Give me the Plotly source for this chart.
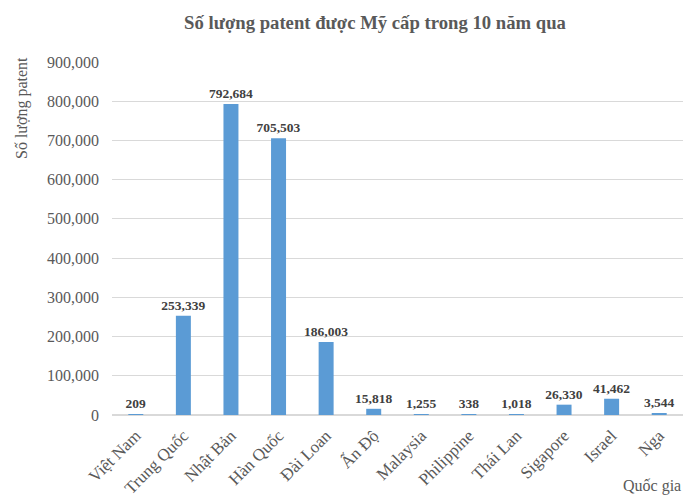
import plotly.graph_objects as go

# ──────── データ ────────
quoc_gia = ["Việt Nam", "Trung Quốc", "Nhật Bản", "Hàn Quốc", "Đài Loan", "Ấn Độ",
            "Malaysia", "Philippine", "Thái Lan", "Sigapore", "Israel", "Nga"]
so_luong = [209, 253339, 792684, 705503, 186003, 15818, 1255, 338, 1018, 26330, 41462, 3544]
y_ticks = [0, 100000, 200000, 300000, 400000, 500000, 600000, 700000, 800000, 900000]

font_serif = "Liberation Serif, Times New Roman, serif"

# ページ本体の余白 (8px) を差し引いたサイズ
W, H = 685, 493
L, R, T, B = 104, 10, 54, 86
pw, ph = W - L - R, H - T - B

fig = go.Figure(go.Bar(
    x=quoc_gia,
    y=so_luong,
    marker=dict(color="#5B9BD5", line=dict(width=0)),
    text=[f"{v:,}" for v in so_luong],
    textposition="outside",
    constraintext="none",
    textfont=dict(family=font_serif, size=13.5, color="#404040", weight="bold"),
    cliponaxis=False,
))

fig.update_layout(
    width=W, height=H,
    margin=dict(l=L, r=R, t=T, b=B),
    paper_bgcolor="white", plot_bgcolor="white",
    bargap=0.685,
    showlegend=False,
    font=dict(family=font_serif, color="#595959"),
    title=dict(
        text="<b>Số lượng patent được Mỹ cấp trong 10 năm qua</b>",
        x=(375 - 8) / W, xanchor="center", y=1 - 14 / H, yanchor="middle",
        font=dict(family=font_serif, size=18.7, color="#595959"),
    ),
    xaxis=dict(
        tickangle=-45,
        tickfont=dict(family=font_serif, size=17, color="#595959"),
        showline=True, linecolor="#d9d9d9", linewidth=1,
        ticks="", showgrid=False, automargin=False,
        ticklabelstandoff=3,
    ),
    yaxis=dict(
        range=[0, 900000],
        tickvals=y_ticks,
        tickformat=",",
        tickfont=dict(family=font_serif, size=16, color="#595959"),
        showgrid=True, gridcolor="#d9d9d9", gridwidth=1,
        zeroline=True, zerolinecolor="#d9d9d9",
        ticks="", ticklabelstandoff=12, automargin=False,
    ),
    annotations=[
        dict(text="Số lượng patent", textangle=-90,
             x=-(L - 14) / pw, y=1 - (100 - T) / ph,
             xref="paper", yref="paper", xanchor="center", yanchor="middle",
             showarrow=False,
             font=dict(family=font_serif, size=16, color="#595959")),
        dict(text="Quốc gia", x=1.0, y=-(478 - T - ph) / ph,
             xref="paper", yref="paper",
             xanchor="right", yanchor="middle", showarrow=False,
             font=dict(family=font_serif, size=16, color="#595959")),
    ],
)

fig.write_html("out.html")
